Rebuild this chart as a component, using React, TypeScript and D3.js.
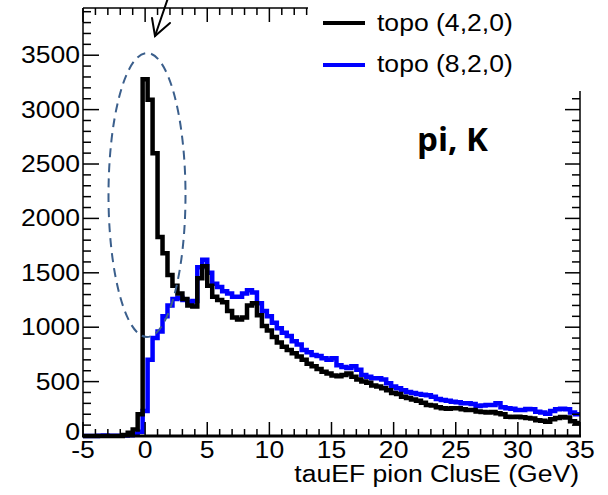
import React from "react";
import * as d3 from "d3";

// Histogram: 100 bins from -5 to 35 GeV (bin width 0.4)
const xMin = -5;
const xMax = 35;
const nBins = 100;

const topo420: number[] = [
  0, 0, 0, 0, 0, 0, 0, 0, 10, 30,
  60, 200, 3280, 3090, 2600, 1830, 1680, 1480, 1380, 1310,
  1260, 1200, 1190, 1450, 1560, 1380, 1280, 1250, 1230, 1150,
  1090, 1070, 1090, 1200, 1220, 1110, 1010, 970, 910, 860,
  820, 790, 760, 730, 700, 665, 640, 615, 590, 575,
  555, 550, 560, 575, 545, 520, 500, 490, 465, 455,
  440, 420, 395, 385, 360, 350, 335, 325, 305, 285,
  280, 265, 255, 250, 255, 255, 245, 240, 240, 225,
  220, 215, 220, 210, 200, 178, 175, 178, 172, 165,
  160, 145, 140, 130, 155, 165, 175, 170, 135, 120,
];

const topo820: number[] = [
  0, 0, 0, 2, 4, 3, 2, 3, 5, 8,
  15, 40, 230, 700, 900, 960, 1100, 1200, 1260, 1270,
  1250, 1230, 1240, 1550, 1620, 1500, 1400, 1370, 1330, 1310,
  1280, 1280, 1310, 1340, 1320, 1220, 1150, 1100, 1040, 990,
  950, 920, 870, 840, 790, 770, 745, 735, 715, 700,
  715, 650, 635, 625, 640, 610, 560, 545, 530, 530,
  520, 485, 455, 440, 420, 405, 395, 385, 380, 375,
  360, 340, 330, 325, 315, 310, 300, 300, 295, 275,
  280, 285, 285, 300, 265, 255, 250, 240, 240, 248,
  245, 222, 215, 205, 230, 245, 250, 245, 215, 200,
];

const xTickLabels = [-5, 0, 5, 10, 15, 20, 25, 30, 35];
const yTickLabels = [0, 500, 1000, 1500, 2000, 2500, 3000, 3500];
const legendLabels = ["topo (4,2,0)", "topo (8,2,0)"];
const xTitle = "tauEF pion ClusE (GeV)";
const annotation = "pi, K";

const W = 608;
const H = 495;
const left = 83;
const right = 580;
const top = 8;
const bottom = 436;
const yMaxVal = 3934;

const FONT = "'Liberation Sans', Arial, sans-serif";
const FS = 23.5;
const SX = 1.13;

function stepPath(vals: number[], x: d3.ScaleLinear<number, number>, y: d3.ScaleLinear<number, number>) {
  const w = (xMax - xMin) / nBins;
  const pts: [number, number][] = vals.map((v, i) => [xMin + i * w, v]);
  pts.push([xMax, vals[vals.length - 1]]);
  const line = d3
    .line<[number, number]>()
    .x((d) => x(d[0]))
    .y((d) => y(d[1]))
    .curve(d3.curveStepAfter);
  return line(pts) || "";
}

function Txt(props: { x: number; y: number; anchor?: string; children: React.ReactNode; size?: number }) {
  const { x, y, anchor = "start", children, size = FS } = props;
  return (
    <text
      transform={`translate(${x},${y}) scale(${SX},1)`}
      textAnchor={anchor as any}
      fontFamily={FONT}
      fontSize={size}
      fill="#000"
    >
      {children}
    </text>
  );
}

export default function App() {
  const x = d3.scaleLinear().domain([xMin, xMax]).range([left, right]);
  const y = d3.scaleLinear().domain([0, yMaxVal]).range([bottom, top]);

  const xMinor = d3.range(xMin, xMax + 0.001, 1);
  const yMinor = d3.range(0, yMaxVal, 100);

  return (
    <svg width={W} height={H} style={{ position: "absolute", left: 0, top: 0, background: "#fff" }}>
      <rect x={0} y={0} width={W} height={H} fill="#fff" />
      {/* histograms */}
      <path d={stepPath(topo820, x, y)} fill="none" stroke="#0000ff" strokeWidth={4.5} strokeLinejoin="miter" />
      <path d={stepPath(topo420, x, y)} fill="none" stroke="#000" strokeWidth={4.5} strokeLinejoin="miter" />

      {/* frame */}
      <line x1={left} x2={left} y1={top} y2={bottom} stroke="#000" strokeWidth={1.5} />
      <line x1={right} x2={right} y1={top} y2={bottom} stroke="#000" strokeWidth={1.5} />
      <line x1={left} x2={right} y1={top} y2={top} stroke="#000" strokeWidth={1.5} />
      <line x1={left - 1} x2={right + 1} y1={bottom} y2={bottom} stroke="#000" strokeWidth={3} />

      {/* x ticks (bottom and top) */}
      {xMinor.map((v) => {
        const major = Math.abs(v % 5) < 1e-6;
        const len = major ? 14 : 7;
        return (
          <g key={"xt" + v}>
            <line x1={x(v)} x2={x(v)} y1={bottom} y2={bottom - len} stroke="#000" strokeWidth={1.5} />
            <line x1={x(v)} x2={x(v)} y1={top} y2={top + len} stroke="#000" strokeWidth={1.5} />
          </g>
        );
      })}
      {/* y ticks (left and right) */}
      {yMinor.map((v) => {
        const major = v % 500 === 0;
        return (
          <g key={"yt" + v}>
            <line x1={left} x2={left + (major ? 16 : 8)} y1={y(v)} y2={y(v)} stroke="#000" strokeWidth={1.5} />
            <line x1={right} x2={right - (major ? 15 : 8)} y1={y(v)} y2={y(v)} stroke="#000" strokeWidth={1.5} />
          </g>
        );
      })}

      {/* tick labels */}
      {yTickLabels.map((v) => (
        <Txt key={"yl" + v} x={80} y={y(v) + (v === 0 ? 4 : 8)} anchor="end">
          {v}
        </Txt>
      ))}
      {xTickLabels.map((v) => (
        <Txt key={"xl" + v} x={x(v)} y={458} anchor="middle">
          {v}
        </Txt>
      ))}
      <Txt x={579} y={482} anchor="end">
        {xTitle}
      </Txt>

      {/* legend (white box covering frame) */}
      <rect x={308} y={0} width={W - 308} height={91} fill="#fff" />
      <line x1={323} x2={365} y1={23} y2={23} stroke="#000" strokeWidth={4} />
      <line x1={323} x2={365} y1={65} y2={65} stroke="#0000ff" strokeWidth={4} />
      <Txt x={377} y={31}>{legendLabels[0]}</Txt>
      <Txt x={377} y={72}>{legendLabels[1]}</Txt>

      {/* annotations */}
      <text x={417} y={151} fontFamily="'Open Sans', 'Noto Sans', sans-serif" fontWeight="bold" fontSize={33} fill="#000">
        {annotation}
      </text>
      <ellipse cx={147} cy={195} rx={38.5} ry={142} fill="none" stroke="#3b5f8c" strokeWidth={2} strokeDasharray="9,6" />
      <g stroke="#000" strokeWidth={2} fill="none" strokeLinecap="round">
        <line x1={168} y1={-2} x2={155} y2={36} />
        <polyline points="152,18 155,36 170,23" />
      </g>
    </svg>
  );
}
